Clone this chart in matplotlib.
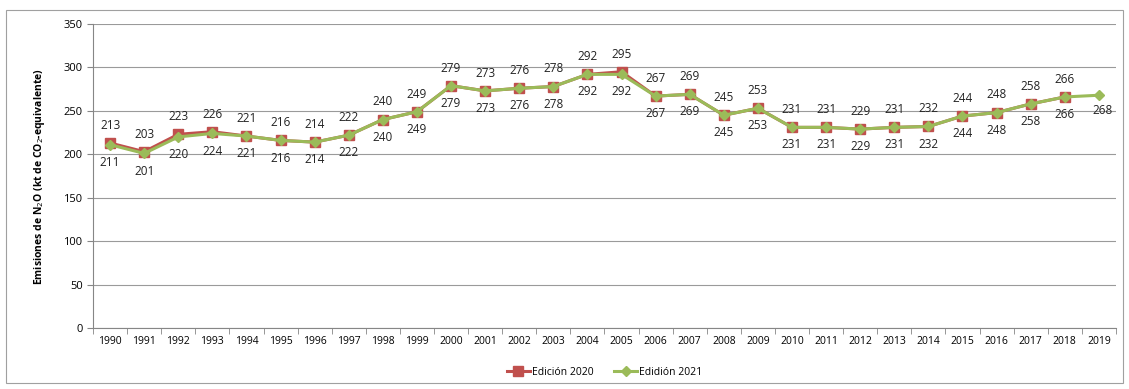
import numpy as np
import matplotlib.pyplot as plt
from matplotlib.patches import Rectangle

# Datos
years = [str(y) for y in range(1990, 2020)]
ed2020 = [213, 203, 223, 226, 221, 216, 214, 222, 240, 249, 279, 273, 276, 278, 292,
          295, 267, 269, 245, 253, 231, 231, 229, 231, 232, 244, 248, 258, 266]
ed2021 = [211, 201, 220, 224, 221, 216, 214, 222, 240, 249, 279, 273, 276, 278, 292,
          292, 267, 269, 245, 253, 231, 231, 229, 231, 232, 244, 248, 258, 266, 268]

plt.rcParams['font.family'] = ['Open Sans', 'DejaVu Sans']

fig = plt.figure(figsize=(11.29, 3.89), dpi=100)
ax = fig.add_axes([0.0824, 0.1568, 0.906, 0.7815])

# marco exterior
fig.patches.append(Rectangle((6 / 1129, 6 / 389), 1117 / 1129, 373 / 389,
                             transform=fig.transFigure, fill=False,
                             edgecolor='#a0a0a0', linewidth=0.8))

x20 = np.arange(len(ed2020))
x21 = np.arange(len(ed2021))
ax.plot(x20, ed2020, color='#C0504D', linewidth=2.2, marker='s', markersize=7,
        markerfacecolor='#C0504D', markeredgecolor='#C0504D', label='Edición 2020', zorder=3)
ax.plot(x21, ed2021, color='#9BBB59', linewidth=2.2, marker='D', markersize=5,
        markerfacecolor='#9BBB59', markeredgecolor='#9BBB59', label='Edidión 2021', zorder=4)

for i, v in enumerate(ed2020):
    ax.annotate(str(v), (i, v), xytext=(0, 8), textcoords='offset points',
                ha='center', va='bottom', fontsize=8.5, color='#222222')
for i, v in enumerate(ed2021):
    if i == len(ed2021) - 1:
        # último punto: etiqueta algo a la derecha
        ax.annotate(str(v), (i, v), xytext=(3, -6), textcoords='offset points',
                    ha='center', va='top', fontsize=8.5, color='#222222')
    else:
        ax.annotate(str(v), (i, v), xytext=(0, -8), textcoords='offset points',
                    ha='center', va='top', fontsize=8.5, color='#222222')

ax.set_ylim(0, 350)
ax.set_yticks(range(0, 351, 50))
ax.set_xlim(-0.5, len(years) - 0.5)
ax.set_xticks(x21)
ax.set_xticklabels(years)
ax.set_xticks(np.arange(-0.5, len(years)), minor=True)
ax.tick_params(axis='x', which='major', length=0, labelsize=7.5, pad=6)
ax.tick_params(axis='x', which='minor', length=4, color='#868686')
ax.tick_params(axis='y', length=4, color='#868686', labelsize=8)

ax.grid(axis='y', color='#9a9a9a', linewidth=0.8)
ax.set_axisbelow(True)
for s in ['top', 'right']:
    ax.spines[s].set_visible(False)
for s in ['left', 'bottom']:
    ax.spines[s].set_color('#868686')

ax.set_ylabel('Emisiones de N$_2$O (kt de CO$_2$-equivalente)', fontsize=7.5,
              fontweight='bold', labelpad=12)

ax.legend(loc='center', bbox_to_anchor=(0.5, -0.145), ncol=2, frameon=False,
          fontsize=7.5, handlelength=2.2, columnspacing=2, handletextpad=0.2)

fig.savefig('out.png', dpi=100)
